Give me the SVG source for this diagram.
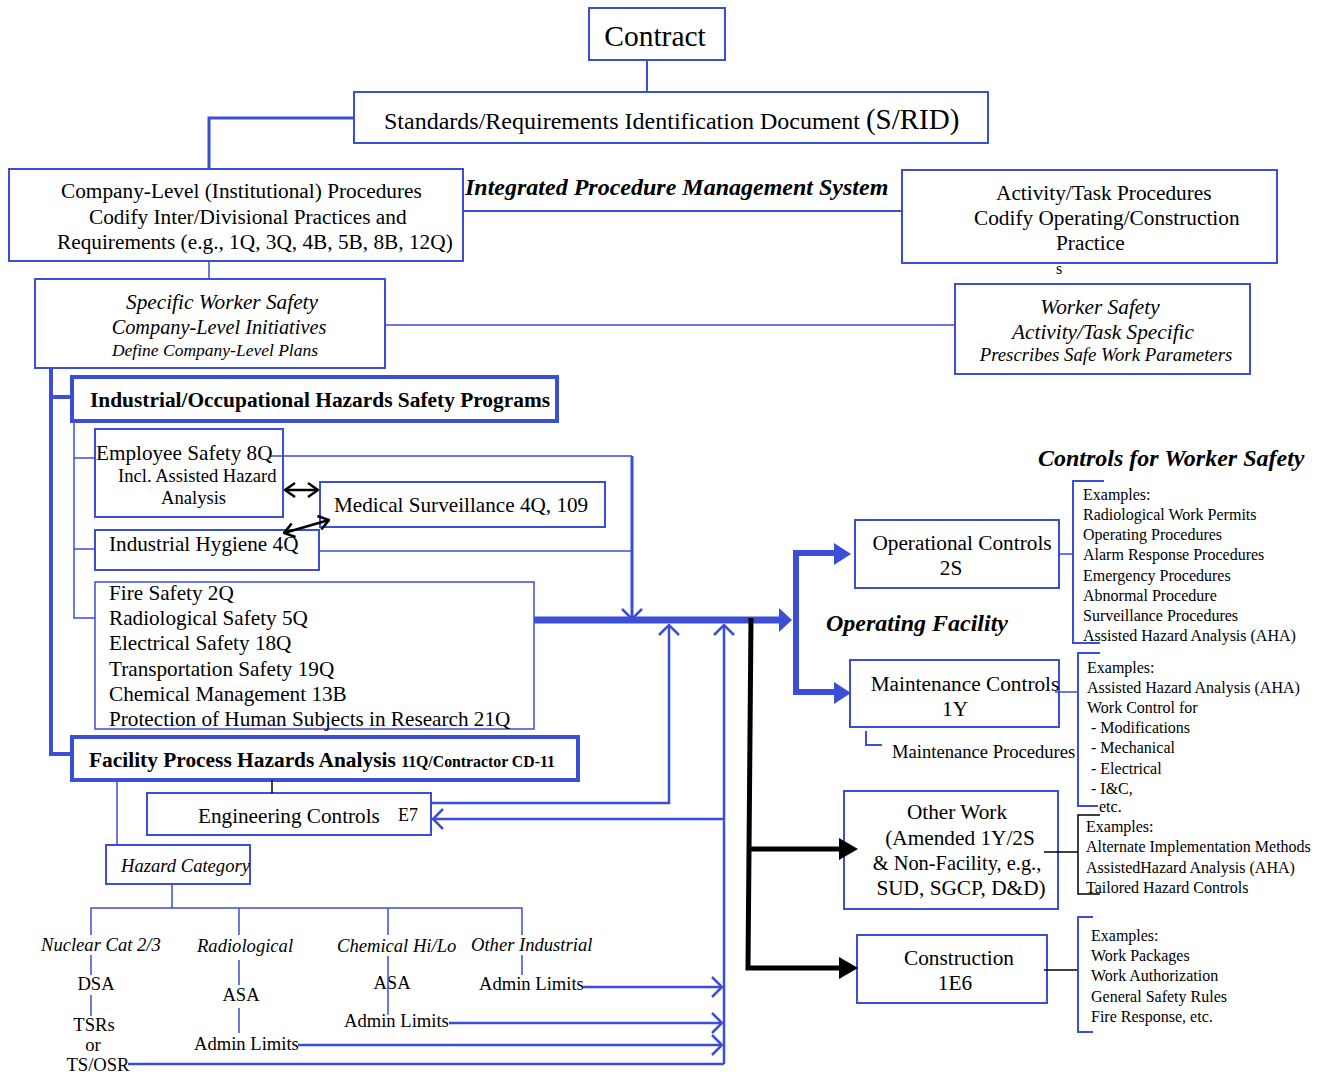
<svg xmlns="http://www.w3.org/2000/svg" width="1325" height="1074" viewBox="0 0 1325 1074">
  <style>
    text { font-family: "Liberation Serif", "Times New Roman", serif; fill: #000; }
    .box { fill: #fff; stroke: #3b4ed6; stroke-width: 2; }
    .boxthick { fill: #fff; stroke: #3b4ed6; stroke-width: 4; }
    .wire { fill: none; stroke: #3b4ed6; stroke-width: 2; }
    .wirethin { fill: none; stroke: #3b4ed6; stroke-width: 1.5; }
    .spine { fill: none; stroke: #3b4ed6; stroke-width: 4; }
    .bus { fill: none; stroke: #3b4ed6; stroke-width: 7; }
    .busfill { fill: #3b4ed6; }
    .blk { fill: none; stroke: #000; stroke-width: 5; }
    .blkthin { fill: none; stroke: #000; stroke-width: 1.5; }
    .blkfill { fill: #000; }
    .dbl { fill: none; stroke: #000; stroke-width: 2.5; }
    .t20 { font-size: 21.3px; }
    .t19 { font-size: 21.2px; }
    .t17 { font-size: 18.6px; }
    .t15 { font-size: 16px; }
    .it { font-style: italic; }
    .bi { font-style: italic; font-weight: bold; font-size: 24px; }
    .bd { font-weight: bold; font-size: 21.4px; }
    .mid { text-anchor: middle; }
  </style>
  <defs>
    <marker id="openArrow" viewBox="0 0 12 22" refX="11" refY="11" markerWidth="12" markerHeight="22" markerUnits="userSpaceOnUse" orient="auto">
      <path d="M1,1 L11,11 L1,21" fill="none" stroke="#3b4ed6" stroke-width="2.5"/>
    </marker>
    <marker id="blackHead" viewBox="0 0 12 16" refX="11" refY="8" markerWidth="12" markerHeight="16" markerUnits="userSpaceOnUse" orient="auto-start-reverse">
      <path d="M1,1 L11,8 L1,15" fill="none" stroke="#000" stroke-width="2.5"/>
    </marker>
  </defs>

  <!-- nodes -->
  <g id="contract">
    <rect class="box" x="589" y="8" width="136" height="52"/>
    <text x="655" y="46" class="mid" font-size="29.5">Contract</text>
  </g>

  <g id="srid">
    <rect class="box" x="354" y="92" width="634" height="51"/>
    <text x="384" y="129" font-size="24">Standards/Requirements Identification Document <tspan font-size="29">(S/RID)</tspan></text>
  </g>

  <g id="company-procedures">
    <rect class="box" x="9" y="169" width="454" height="92"/>
    <text x="61" y="198" class="t20">Company-Level (Institutional) Procedures</text>
    <text x="89" y="224" class="t20">Codify Inter/Divisional Practices and</text>
    <text x="57" y="249" class="t20">Requirements (e.g., 1Q, 3Q, 4B, 5B, 8B, 12Q)</text>
  </g>

  <g id="ipms-title">
    <text x="465" y="195" class="bi">Integrated Procedure Management System</text>
  </g>

  <g id="activity-procedures">
    <rect class="box" x="902" y="170" width="375" height="93"/>
    <text x="996" y="200" class="t20">Activity/Task Procedures</text>
    <text x="974" y="225" class="t20">Codify Operating/Construction</text>
    <text x="1056" y="250" class="t20">Practice</text>
    <text x="1056" y="274" class="t15">s</text>
  </g>

  <g id="company-initiatives">
    <rect class="box" x="35" y="279" width="350" height="89"/>
    <text x="222" y="309" class="t20 it mid">Specific Worker Safety</text>
    <text x="219" y="334" class="it mid" font-size="20.3">Company-Level Initiatives</text>
    <text x="215" y="356" class="it mid" font-size="17.5">Define Company-Level Plans</text>
  </g>

  <g id="worker-safety">
    <rect class="box" x="955" y="284" width="295" height="90"/>
    <text x="1100" y="314" class="t20 it mid">Worker Safety</text>
    <text x="1103" y="339" class="t20 it mid">Activity/Task Specific</text>
    <text x="1106" y="361" class="it mid" font-size="18.8">Prescribes Safe Work Parameters</text>
  </g>

  <g id="industrial-programs">
    <rect class="boxthick" x="72" y="377" width="485" height="44"/>
    <text x="90" y="407" class="bd">Industrial/Occupational Hazards Safety Programs</text>
  </g>

  <g id="employee-safety">
    <rect class="box" x="95" y="429" width="188" height="88"/>
    <text x="96" y="460" class="t19">Employee Safety 8Q</text>
    <text x="118" y="482" class="t17">Incl. Assisted Hazard</text>
    <text x="161" y="504" class="t17">Analysis</text>
  </g>

  <g id="medical-surveillance">
    <rect class="box" x="320" y="482" width="285" height="45"/>
    <text x="334" y="512" class="t19">Medical Surveillance 4Q, 109</text>
  </g>

  <g id="industrial-hygiene">
    <rect class="box" x="95" y="530" width="224" height="40"/>
    <text x="109" y="551" class="t19">Industrial Hygiene 4Q</text>
  </g>

  <g id="safety-programs-list">
    <rect class="box" x="95" y="582" width="439" height="147" style="stroke-width:1.5"/>
    <text x="109" y="600" class="t19">Fire Safety 2Q</text>
    <text x="109" y="625" class="t19">Radiological Safety 5Q</text>
    <text x="109" y="650" class="t19">Electrical Safety 18Q</text>
    <text x="109" y="676" class="t19">Transportation Safety 19Q</text>
    <text x="109" y="701" class="t19">Chemical Management 13B</text>
    <text x="109" y="726" class="t19">Protection of Human Subjects in Research 21Q</text>
  </g>

  <g id="process-hazards">
    <rect class="boxthick" x="72" y="737" width="506" height="43"/>
    <text x="89" y="767" class="bd">Facility Process Hazards Analysis <tspan font-size="15.8">11Q/Contractor CD-11</tspan></text>
  </g>

  <g id="engineering-controls">
    <rect class="box" x="147" y="793" width="284" height="42"/>
    <text x="198" y="823" class="t19">Engineering Controls</text>
    <text x="398" y="821" font-size="18">E7</text>
  </g>

  <g id="hazard-category">
    <rect class="box" x="106" y="845" width="144" height="39"/>
    <text x="121" y="872" class="t17 it">Hazard Category</text>
  </g>

  <g id="hazard-branches">
    <text x="41" y="951" class="t17 it">Nuclear Cat 2/3</text>
    <text x="197" y="952" class="t17 it">Radiological</text>
    <text x="337" y="952" class="t17 it">Chemical Hi/Lo</text>
    <text x="471" y="951" class="t17 it">Other Industrial</text>
    <text x="96" y="990" class="t17 mid">DSA</text>
    <text x="94" y="1031" class="t17 mid">TSRs</text>
    <text x="93" y="1051" class="t17 mid">or</text>
    <text x="98" y="1071" class="t17 mid">TS/OSR</text>
    <text x="241" y="1001" class="t17 mid">ASA</text>
    <text x="194" y="1050" class="t17">Admin Limits</text>
    <text x="392" y="989" class="t17 mid">ASA</text>
    <text x="344" y="1027" class="t17">Admin Limits</text>
    <text x="479" y="990" class="t17">Admin Limits</text>
  </g>

  <g id="controls-title">
    <text x="1038" y="466" class="bi">Controls for Worker Safety</text>
  </g>

  <g id="operational-controls">
    <rect class="box" x="855" y="520" width="204" height="68"/>
    <text x="962" y="550" class="t20 mid">Operational Controls</text>
    <text x="951" y="575" class="t20 mid">2S</text>
  </g>

  <g id="operational-examples">
    <text x="1083" y="500" class="t15">Examples:</text>
    <text x="1083" y="520" class="t15">Radiological Work Permits</text>
    <text x="1083" y="540" class="t15">Operating Procedures</text>
    <text x="1083" y="560" class="t15">Alarm Response Procedures</text>
    <text x="1083" y="581" class="t15">Emergency Procedures</text>
    <text x="1083" y="601" class="t15">Abnormal Procedure</text>
    <text x="1083" y="621" class="t15">Surveillance Procedures</text>
    <text x="1083" y="641" class="t15">Assisted Hazard Analysis (AHA)</text>
  </g>

  <g id="operating-facility-title">
    <text x="826" y="631" class="bi">Operating Facility</text>
  </g>

  <g id="maintenance-controls">
    <rect class="box" x="850" y="660" width="209" height="67"/>
    <text x="965" y="691" class="t20 mid">Maintenance Controls</text>
    <text x="955" y="716" class="t20 mid">1Y</text>
    <text x="892" y="758" class="t17">Maintenance Procedures</text>
  </g>

  <g id="maintenance-examples">
    <text x="1087" y="673" class="t15">Examples:</text>
    <text x="1087" y="693" class="t15">Assisted Hazard Analysis (AHA)</text>
    <text x="1087" y="713" class="t15">Work Control for</text>
    <text x="1091" y="733" class="t15">- Modifications</text>
    <text x="1091" y="753" class="t15">- Mechanical</text>
    <text x="1091" y="774" class="t15">- Electrical</text>
    <text x="1091" y="794" class="t15">- I&amp;C,</text>
    <text x="1099" y="812" class="t15">etc.</text>
  </g>

  <g id="other-work">
    <rect class="box" x="844" y="791" width="214" height="118"/>
    <text x="957" y="819" class="t20 mid">Other Work</text>
    <text x="960" y="845" class="t20 mid">(Amended 1Y/2S</text>
    <text x="957" y="870" class="mid" font-size="20.4">&amp; Non-Facility, e.g.,</text>
    <text x="961" y="895" class="t20 mid">SUD, SGCP, D&amp;D)</text>
  </g>

  <g id="other-work-examples">
    <text x="1086" y="832" class="t15">Examples:</text>
    <text x="1086" y="852" class="t15">Alternate Implementation Methods</text>
    <text x="1086" y="873" class="t15">AssistedHazard Analysis (AHA)</text>
    <text x="1086" y="893" class="t15">Tailored Hazard Controls</text>
  </g>

  <g id="construction">
    <rect class="box" x="857" y="935" width="190" height="68"/>
    <text x="959" y="965" class="t20 mid">Construction</text>
    <text x="955" y="990" class="t20 mid">1E6</text>
  </g>

  <g id="construction-examples">
    <text x="1091" y="941" class="t15">Examples:</text>
    <text x="1091" y="961" class="t15">Work Packages</text>
    <text x="1091" y="981" class="t15">Work Authorization</text>
    <text x="1091" y="1002" class="t15">General Safety Rules</text>
    <text x="1091" y="1022" class="t15">Fire Response, etc.</text>
  </g>

  <!-- connectors, drawn over the boxes -->
  <g id="connectors">
    <!-- top hierarchy -->
    <path class="wire" d="M647,60 V92"/>
    <path class="wire" d="M354,118 H209 V169" style="stroke-width:3"/>
    <path class="wire" d="M463,211 H902"/>
    <path class="wirethin" d="M209,261 V279"/>
    <path class="wirethin" d="M385,325 H955"/>

    <!-- left spine to safety programs and process hazards -->
    <path class="spine" d="M51,368 V754 H72"/>
    <path class="spine" d="M51,397 H72"/>
    <path class="wirethin" d="M74,421 V618 H95"/>
    <path class="wirethin" d="M74,458 H95"/>
    <path class="wirethin" d="M74,549 H95"/>

    <!-- programs feeding the main bus -->
    <path class="wirethin" d="M271,456 H632"/>
    <path class="wire" d="M632,456 V619" style="stroke-width:3" marker-end="url(#openArrow)"/>
    <path class="wirethin" d="M319,551 H632"/>
    <path class="dbl" d="M285,490 H318" marker-start="url(#blackHead)" marker-end="url(#blackHead)"/>
    <path class="dbl" d="M284,533 L329,520" marker-start="url(#blackHead)" marker-end="url(#blackHead)"/>

    <!-- main bus -->
    <path class="bus" d="M534,620 H781"/>
    <polygon class="busfill" points="779,608 792,620 779,632"/>
    <path class="bus" d="M796,553 V692" style="stroke-width:6"/>
    <path class="bus" d="M793,553 H836" style="stroke-width:6"/>
    <polygon class="busfill" points="834,543 851,554 834,565"/>
    <path class="bus" d="M793,692 H836" style="stroke-width:6"/>
    <polygon class="busfill" points="834,682 851,693 834,704"/>

    <!-- black branch to other work and construction -->
    <path class="blk" d="M751,618 L748,968 H842"/>
    <path class="blk" d="M749,849 H842"/>
    <polygon class="blkfill" points="839,838 858,849 839,860"/>
    <polygon class="blkfill" points="839,957 858,968 839,979"/>

    <!-- engineering controls loop -->
    <path class="wirethin" d="M272,780 V793" style="stroke:#000"/>
    <path class="wire" d="M431,803 H669 V625" style="stroke-width:2.5" marker-end="url(#openArrow)"/>
    <path class="wire" d="M724,1064 V625" style="stroke-width:2.5" marker-end="url(#openArrow)"/>
    <path class="wire" d="M724,819 H433" style="stroke-width:2.5" marker-end="url(#openArrow)"/>

    <!-- hazard category tree -->
    <path class="wirethin" d="M117,780 V845"/>
    <path class="wirethin" d="M172,884 V908"/>
    <path class="wirethin" d="M91,935 V908 H522 V935"/>
    <path class="wirethin" d="M239,908 V935"/>
    <path class="wirethin" d="M388,908 V935"/>
    <path class="wirethin" d="M91,955 V975 M91,995 V1016"/>
    <path class="wirethin" d="M239,960 V985 M239,1008 V1033"/>
    <path class="wirethin" d="M388,956 V1015"/>
    <path class="wirethin" d="M522,955 V975"/>

    <!-- admin limits returning to the controls bus -->
    <path class="wire" d="M583,987 H722" style="stroke-width:2.5" marker-end="url(#openArrow)"/>
    <path class="wire" d="M449,1023 H722" style="stroke-width:2.5" marker-end="url(#openArrow)"/>
    <path class="wire" d="M298,1045 H722" style="stroke-width:2.5" marker-end="url(#openArrow)"/>
    <path class="wire" d="M128,1064 H724" style="stroke-width:2.5"/>

    <!-- example brackets -->
    <path class="wirethin" d="M1059,554 H1072"/>
    <path class="wire" d="M1104,481 H1073 V643 H1100"/>
    <path class="wirethin" d="M1055,692 H1078"/>
    <path class="wire" d="M1100,653 H1078 V806 H1098"/>
    <path class="wire" d="M866,731 V745 H882"/>
    <path class="blkthin" d="M1044,852 H1078"/>
    <path class="blkthin" d="M1100,815 H1078 V894 H1100"/>
    <path class="blkthin" d="M1044,970 H1078"/>
    <path class="wire" d="M1093,917 H1078 V1032 H1093"/>
  </g>
</svg>
